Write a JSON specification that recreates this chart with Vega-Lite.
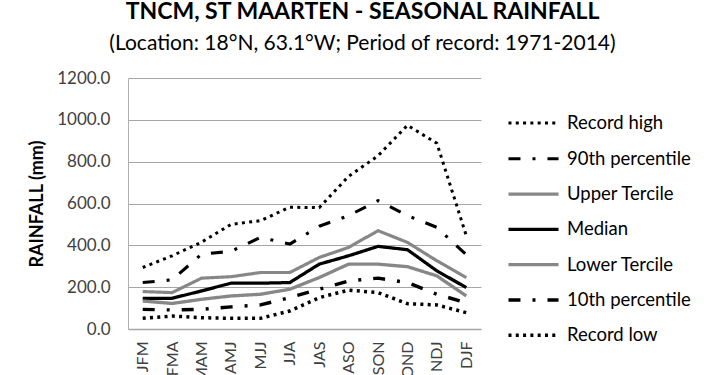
{
  "$schema": "https://vega.github.io/schema/vega-lite/v6.json",
  "autosize": "none",
  "width": 353,
  "height": 251,
  "padding": {"left": 128, "top": 78, "right": 229, "bottom": 46},
  "background": "white",
  "title": {
    "text": "TNCM, ST MAARTEN - SEASONAL RAINFALL",
    "subtitle": "(Location: 18°N, 63.1°W; Period of record: 1971-2014)",
    "anchor": "middle",
    "frame": "group",
    "dx": 58,
    "offset": 15,
    "font": "Lato",
    "fontSize": 23,
    "fontWeight": "bold",
    "color": "#000000",
    "subtitleFont": "Lato",
    "subtitleFontSize": 21,
    "subtitleColor": "#000000",
    "subtitlePadding": 9
  },
  "data": {
    "values": [
      {"season": "JFM", "series": "Record high", "value": 294},
      {"season": "FMA", "series": "Record high", "value": 350},
      {"season": "MAM", "series": "Record high", "value": 415},
      {"season": "AMJ", "series": "Record high", "value": 500},
      {"season": "MJJ", "series": "Record high", "value": 518},
      {"season": "JJA", "series": "Record high", "value": 582},
      {"season": "JAS", "series": "Record high", "value": 580},
      {"season": "ASO", "series": "Record high", "value": 730},
      {"season": "SON", "series": "Record high", "value": 828},
      {"season": "OND", "series": "Record high", "value": 974},
      {"season": "NDJ", "series": "Record high", "value": 888},
      {"season": "DJF", "series": "Record high", "value": 446},
      {"season": "JFM", "series": "90th percentile", "value": 222},
      {"season": "FMA", "series": "90th percentile", "value": 235},
      {"season": "MAM", "series": "90th percentile", "value": 358},
      {"season": "AMJ", "series": "90th percentile", "value": 371},
      {"season": "MJJ", "series": "90th percentile", "value": 438},
      {"season": "JJA", "series": "90th percentile", "value": 406},
      {"season": "JAS", "series": "90th percentile", "value": 491},
      {"season": "ASO", "series": "90th percentile", "value": 542},
      {"season": "SON", "series": "90th percentile", "value": 614},
      {"season": "OND", "series": "90th percentile", "value": 542},
      {"season": "NDJ", "series": "90th percentile", "value": 486},
      {"season": "DJF", "series": "90th percentile", "value": 355},
      {"season": "JFM", "series": "Upper Tercile", "value": 179},
      {"season": "FMA", "series": "Upper Tercile", "value": 174},
      {"season": "MAM", "series": "Upper Tercile", "value": 243},
      {"season": "AMJ", "series": "Upper Tercile", "value": 250},
      {"season": "MJJ", "series": "Upper Tercile", "value": 270},
      {"season": "JJA", "series": "Upper Tercile", "value": 270},
      {"season": "JAS", "series": "Upper Tercile", "value": 342},
      {"season": "ASO", "series": "Upper Tercile", "value": 390},
      {"season": "SON", "series": "Upper Tercile", "value": 470},
      {"season": "OND", "series": "Upper Tercile", "value": 414},
      {"season": "NDJ", "series": "Upper Tercile", "value": 326},
      {"season": "DJF", "series": "Upper Tercile", "value": 246},
      {"season": "JFM", "series": "Median", "value": 147},
      {"season": "FMA", "series": "Median", "value": 147},
      {"season": "MAM", "series": "Median", "value": 182},
      {"season": "AMJ", "series": "Median", "value": 219},
      {"season": "MJJ", "series": "Median", "value": 219},
      {"season": "JJA", "series": "Median", "value": 222},
      {"season": "JAS", "series": "Median", "value": 310},
      {"season": "ASO", "series": "Median", "value": 350},
      {"season": "SON", "series": "Median", "value": 395},
      {"season": "OND", "series": "Median", "value": 379},
      {"season": "NDJ", "series": "Median", "value": 278},
      {"season": "DJF", "series": "Median", "value": 198},
      {"season": "JFM", "series": "Lower Tercile", "value": 134},
      {"season": "FMA", "series": "Lower Tercile", "value": 122},
      {"season": "MAM", "series": "Lower Tercile", "value": 142},
      {"season": "AMJ", "series": "Lower Tercile", "value": 158},
      {"season": "MJJ", "series": "Lower Tercile", "value": 166},
      {"season": "JJA", "series": "Lower Tercile", "value": 190},
      {"season": "JAS", "series": "Lower Tercile", "value": 246},
      {"season": "ASO", "series": "Lower Tercile", "value": 310},
      {"season": "SON", "series": "Lower Tercile", "value": 310},
      {"season": "OND", "series": "Lower Tercile", "value": 298},
      {"season": "NDJ", "series": "Lower Tercile", "value": 254},
      {"season": "DJF", "series": "Lower Tercile", "value": 158},
      {"season": "JFM", "series": "10th percentile", "value": 94},
      {"season": "FMA", "series": "10th percentile", "value": 91},
      {"season": "MAM", "series": "10th percentile", "value": 94},
      {"season": "AMJ", "series": "10th percentile", "value": 106},
      {"season": "MJJ", "series": "10th percentile", "value": 115},
      {"season": "JJA", "series": "10th percentile", "value": 150},
      {"season": "JAS", "series": "10th percentile", "value": 190},
      {"season": "ASO", "series": "10th percentile", "value": 230},
      {"season": "SON", "series": "10th percentile", "value": 243},
      {"season": "OND", "series": "10th percentile", "value": 222},
      {"season": "NDJ", "series": "10th percentile", "value": 166},
      {"season": "DJF", "series": "10th percentile", "value": 126},
      {"season": "JFM", "series": "Record low", "value": 51},
      {"season": "FMA", "series": "Record low", "value": 62},
      {"season": "MAM", "series": "Record low", "value": 54},
      {"season": "AMJ", "series": "Record low", "value": 51},
      {"season": "MJJ", "series": "Record low", "value": 51},
      {"season": "JJA", "series": "Record low", "value": 86},
      {"season": "JAS", "series": "Record low", "value": 150},
      {"season": "ASO", "series": "Record low", "value": 186},
      {"season": "SON", "series": "Record low", "value": 174},
      {"season": "OND", "series": "Record low", "value": 121},
      {"season": "NDJ", "series": "Record low", "value": 115},
      {"season": "DJF", "series": "Record low", "value": 78}
    ]
  },
  "mark": {"type": "line", "strokeJoin": "round"},
  "encoding": {
    "x": {
      "field": "season",
      "type": "ordinal",
      "sort": ["JFM", "FMA", "MAM", "AMJ", "MJJ", "JJA", "JAS", "ASO", "SON", "OND", "NDJ", "DJF"],
      "scale": {"type": "point", "padding": 0.5},
      "axis": {
        "title": null,
        "labelAngle": -90,
        "labelFont": "Lato",
        "labelFontSize": 16,
        "labelColor": "#404040",
        "labelPadding": 12,
        "ticks": false,
        "domainColor": "#a6a6a6",
        "domainWidth": 1.5,
        "grid": false
      }
    },
    "y": {
      "field": "value",
      "type": "quantitative",
      "scale": {"domain": [0, 1200], "nice": false},
      "axis": {
        "title": "RAINFALL (mm)",
        "titleFont": "Lato",
        "titleFontSize": 18,
        "titleFontWeight": "bold",
        "titleColor": "#000000",
        "titlePadding": 10,
        "values": [0, 200, 400, 600, 800, 1000, 1200],
        "format": ".1f",
        "labelFont": "Lato",
        "labelFontSize": 17,
        "labelColor": "#404040",
        "labelPadding": 18,
        "ticks": false,
        "domainColor": "#b0b0b0",
        "gridColor": "#a6a6a6",
        "gridWidth": 1.2
      }
    },
    "color": {
      "field": "series",
      "type": "nominal",
      "scale": {
        "domain": ["Record high", "90th percentile", "Upper Tercile", "Median", "Lower Tercile", "10th percentile", "Record low"],
        "range": ["#000000", "#000000", "#878787", "#000000", "#878787", "#000000", "#000000"]
      },
      "legend": {
        "title": null,
        "orient": "none",
        "legendX": 386,
        "legendY": 26,
        "symbolType": "M-1.43,0H1.43",
        "symbolSize": 1225,
        "symbolFillColor": "transparent",
        "labelFont": "Lato",
        "labelFontSize": 18.5,
        "labelColor": "#000000",
        "labelOffset": 14,
        "rowPadding": 6.3
      }
    },
    "strokeDash": {
      "field": "series",
      "type": "nominal",
      "scale": {
        "domain": ["Record high", "90th percentile", "Upper Tercile", "Median", "Lower Tercile", "10th percentile", "Record low"],
        "range": [[3, 4.3], [12, 12, 3, 12], [1, 0], [1, 0], [1, 0], [12, 12, 3, 12], [3, 4.3]]
      }
    },
    "strokeWidth": {
      "field": "series",
      "type": "nominal",
      "scale": {
        "domain": ["Record high", "90th percentile", "Upper Tercile", "Median", "Lower Tercile", "10th percentile", "Record low"],
        "range": [3, 3.5, 3.5, 3, 3.5, 3.5, 3]
      }
    }
  },
  "config": {
    "view": {"stroke": null},
    "legend": {"symbolType": "M-1.43,0H1.43"}
  }
}
